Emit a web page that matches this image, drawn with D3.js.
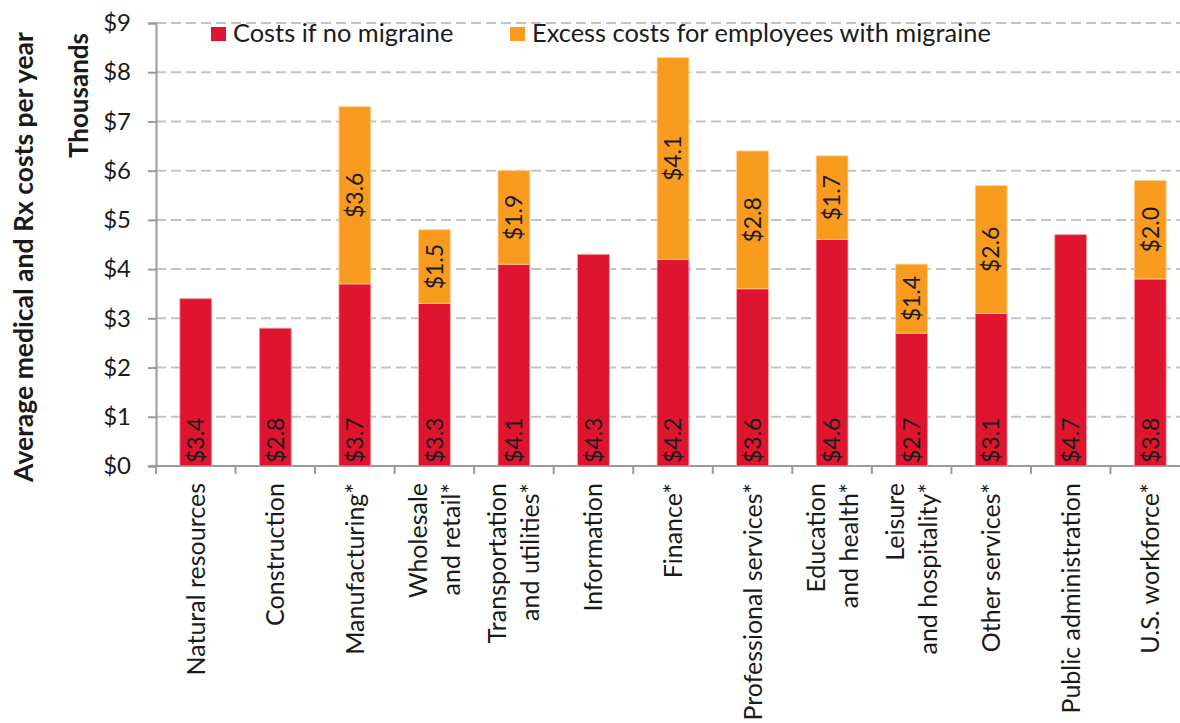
<!DOCTYPE html>
<html>
<head>
  <meta charset="utf-8">
  <title>Migraine costs by industry</title>
  <script src="https://cdn.jsdelivr.net/npm/d3@7"></script>
  <style>
    body { margin: 0; background: #fff; }
    text { font-family: Lato, "Open Sans", sans-serif; fill: #1a1a1a; }
  </style>
</head>
<body>
<div id="chart"></div>
<script>

// industries, "\n" marks a line break in the axis label
var categories = ["Natural resources", "Construction", "Manufacturing*", "Wholesale\nand retail*",
  "Transportation\nand utilities*", "Information", "Finance*", "Professional services*",
  "Education\nand health*", "Leisure\nand hospitality*", "Other services*",
  "Public administration", "U.S. workforce*"];

// thousands of dollars
var baseCosts = [3.4, 2.8, 3.7, 3.3, 4.1, 4.3, 4.2, 3.6, 4.6, 2.7, 3.1, 4.7, 3.8];
var excessCosts = [null, null, 3.6, 1.5, 1.9, null, 4.1, 2.8, 1.7, 1.4, 2.6, null, 2.0];

var yTicks = [0, 1, 2, 3, 4, 5, 6, 7, 8, 9];
var seriesNames = ["Costs if no migraine", "Excess costs for employees with migraine"];

var red = "#df1530", orange = "#f99b1f";

var width = 1180, height = 723;

var svg = d3.select("#chart")
  .append("svg")
  .attr("width", width)
  .attr("height", height);

var x = d3.scaleBand()
  .domain(categories)
  .range([156, 1190])
  .padding(0);

var y = d3.scaleLinear()
  .domain([0, 9])
  .range([466, 23]);

var barW = x.bandwidth() * 0.4;

// gridlines
svg.append("g")
  .selectAll("line")
  .data(yTicks.filter(function(d) { return d > 0; }))
  .enter()
  .append("line")
  .attr("x1", 156)
  .attr("x2", 1190)
  .attr("y1", function(d) { return y(d); })
  .attr("y2", function(d) { return y(d); })
  .attr("stroke", "#c4c4c4")
  .attr("stroke-width", 2)
  .attr("stroke-dasharray", "10,5");

// y axis
var yAxis = d3.axisLeft(y)
  .tickValues(yTicks)
  .tickSize(8)
  .tickPadding(17)
  .tickFormat(function(d) { return "$" + d; });

var yg = svg.append("g")
  .attr("transform", "translate(156,0)")
  .call(yAxis);
yg.select(".domain").attr("stroke", "#9a9a9a").attr("stroke-width", 2);
yg.selectAll(".tick line").attr("stroke", "#9a9a9a").attr("stroke-width", 2);
yg.selectAll(".tick text").style("font-size", "24px").attr("fill", "#1a1a1a");

// x axis baseline and ticks between categories
svg.append("line")
  .attr("x1", 148).attr("x2", 1190)
  .attr("y1", y(0)).attr("y2", y(0))
  .attr("stroke", "#9a9a9a").attr("stroke-width", 2);

svg.append("g")
  .selectAll("line")
  .data(categories)
  .enter()
  .append("line")
  .attr("x1", function(d) { return x(d); })
  .attr("x2", function(d) { return x(d); })
  .attr("y1", y(0))
  .attr("y2", y(0) + 8)
  .attr("stroke", "#9a9a9a")
  .attr("stroke-width", 2);

// bars
var bars = svg.append("g");

bars.selectAll(".base")
  .data(categories)
  .enter()
  .append("rect")
  .attr("x", function(d) { return x(d) + (x.bandwidth() - barW) / 2; })
  .attr("width", barW)
  .attr("y", function(d, i) { return y(baseCosts[i]); })
  .attr("height", function(d, i) { return y(0) - y(baseCosts[i]); })
  .attr("fill", red)
  .attr("stroke", "#f6a0aa")
  .attr("stroke-width", 0.8);

bars.selectAll(".excess")
  .data(categories.filter(function(d, i) { return excessCosts[i] != null; }))
  .enter()
  .append("rect")
  .attr("x", function(d) { return x(d) + (x.bandwidth() - barW) / 2; })
  .attr("width", barW)
  .attr("y", function(d) { var i = categories.indexOf(d); return y(baseCosts[i] + excessCosts[i]); })
  .attr("height", function(d) { var i = categories.indexOf(d); return y(baseCosts[i]) - y(baseCosts[i] + excessCosts[i]); })
  .attr("fill", orange)
  .attr("stroke", "#fcd29a")
  .attr("stroke-width", 0.8);

// value labels, rotated
svg.append("g")
  .selectAll("text")
  .data(categories)
  .enter()
  .append("text")
  .attr("transform", function(d) { return "translate(" + (x(d) + x.bandwidth() / 2) + "," + (y(0) - 3) + ") rotate(-90)"; })
  .attr("dy", "0.36em")
  .attr("text-anchor", "start")
  .style("font-size", "23px")
  .text(function(d, i) { return "$" + baseCosts[i].toFixed(1); });

svg.append("g")
  .selectAll("text")
  .data(categories.filter(function(d, i) { return excessCosts[i] != null; }))
  .enter()
  .append("text")
  .attr("transform", function(d) {
    var i = categories.indexOf(d);
    var mid = y(baseCosts[i] + excessCosts[i] / 2);
    return "translate(" + (x(d) + x.bandwidth() / 2) + "," + mid + ") rotate(-90)";
  })
  .attr("dy", "0.36em")
  .attr("text-anchor", "middle")
  .style("font-size", "23px")
  .text(function(d) { return "$" + excessCosts[categories.indexOf(d)].toFixed(1); });

// category labels
var lineGap = 33;
var cat = svg.append("g")
  .selectAll("text")
  .data(categories)
  .enter()
  .append("text")
  .attr("transform", function(d) { return "translate(" + (x(d) + x.bandwidth() / 2) + ",483) rotate(-90)"; })
  .attr("text-anchor", "end")
  .style("font-size", "25px");

cat.each(function(d) {
  var lines = d.split("\n");
  var t = d3.select(this);
  lines.forEach(function(line, k) {
    t.append("tspan")
      .attr("x", 0)
      .attr("y", (k - (lines.length - 1) / 2) * lineGap)
      .attr("dy", "0.36em")
      .text(line);
  });
});

// legend
var legend = svg.append("g");
var legendX = [211, 510];
legend.selectAll("rect")
  .data(seriesNames)
  .enter()
  .append("rect")
  .attr("x", function(d, i) { return legendX[i]; })
  .attr("y", 27)
  .attr("width", 15)
  .attr("height", 14)
  .attr("fill", function(d, i) { return i == 0 ? red : orange; });

legend.selectAll("text")
  .data(seriesNames)
  .enter()
  .append("text")
  .attr("x", function(d, i) { return legendX[i] + 22; })
  .attr("y", 42)
  .style("font-size", "25.4px")
  .text(function(d) { return d; });

// axis titles
svg.append("text")
  .attr("transform", "translate(33,257) rotate(-90)")
  .attr("text-anchor", "middle")
  .style("font-size", "26.5px")
  .style("font-weight", "bold")
  .text("Average medical and Rx costs per year");

svg.append("text")
  .attr("transform", "translate(88,33) rotate(-90)")
  .attr("text-anchor", "end")
  .style("font-size", "26px")
  .style("font-weight", "bold")
  .text("Thousands");

</script>
</body>
</html>
